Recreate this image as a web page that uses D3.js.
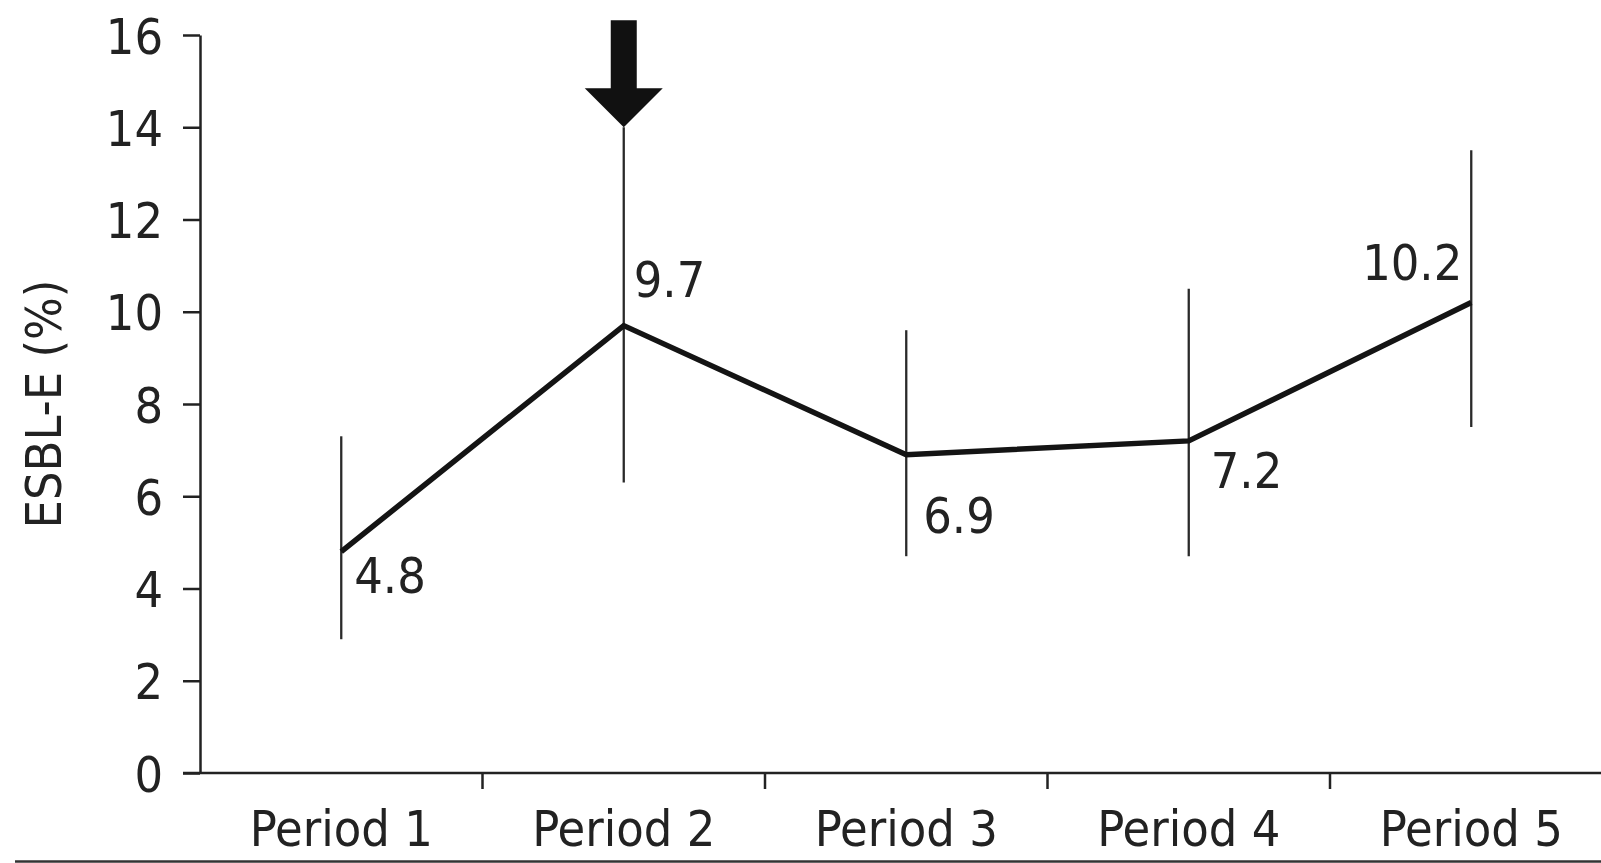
<!DOCTYPE html>
<html>
<head>
<meta charset="utf-8">
<script src="https://cdn.jsdelivr.net/npm/d3@7"></script>
<style>
  body { margin: 0; background: #fff; }
  svg { display: block; font-family: 'DejaVu Sans Condensed', 'DejaVu Sans', sans-serif; }
</style>
</head>
<body>
<script>
// data
const periods = ['Period 1', 'Period 2', 'Period 3', 'Period 4', 'Period 5'];
const esbl = [4.8, 9.7, 6.9, 7.2, 10.2];
const ciLow = [2.9, 6.3, 4.7, 4.7, 7.5];
const ciHigh = [7.3, 14.0, 9.6, 10.5, 13.5];
const yTicks = [0, 2, 4, 6, 8, 10, 12, 14, 16];
const arrowAt = 'Period 2';

const width = 1601, height = 863;
const margin = { l: 200, t: 35, b: 90 };

// where each value label sits relative to its point
const labelPos = [
  { dx: 13, dy: 41, anchor: 'start' },
  { dx: 10, dy: -29, anchor: 'start' },
  { dx: 17, dy: 78, anchor: 'start' },
  { dx: 22, dy: 47, anchor: 'start' },
  { dx: -9, dy: -23, anchor: 'end' }
];

const svg = d3.select('body').append('svg')
  .attr('width', width)
  .attr('height', height);

const x = d3.scaleBand()
  .domain(periods)
  .range([margin.l, margin.l + 5 * 282.5]);

const y = d3.scaleLinear()
  .domain([0, 16])
  .range([height - margin.b, margin.t]);

// y axis
const yAxis = svg.append('g')
  .attr('transform', `translate(${margin.l},0)`)
  .call(d3.axisLeft(y).tickValues(yTicks).tickSize(17).tickPadding(20).tickSizeOuter(0));
yAxis.select('.domain').attr('stroke', '#222').attr('stroke-width', 2.5);
yAxis.selectAll('.tick line').attr('stroke', '#222').attr('stroke-width', 2.5);
yAxis.selectAll('.tick text')
  .attr('font-size', 50)
  .attr('font-family', "'DejaVu Sans Condensed', 'DejaVu Sans', sans-serif")
  .attr('fill', '#222')
  .attr('dy', '0.36em');

// x axis
const xAxis = svg.append('g')
  .attr('transform', `translate(0,${y(0)})`)
  .call(d3.axisBottom(x).tickSize(0).tickPadding(37).tickSizeOuter(0));
xAxis.select('.domain')
  .attr('d', `M${margin.l - 17},0H${width}`)
  .attr('stroke', '#222').attr('stroke-width', 2.5);
xAxis.selectAll('.tick text')
  .attr('font-size', 50)
  .attr('font-family', "'DejaVu Sans Condensed', 'DejaVu Sans', sans-serif")
  .attr('fill', '#222');

// band edges as ticks
xAxis.selectAll('.edge')
  .data(periods)
  .enter().append('line')
  .attr('class', 'edge')
  .attr('x1', d => x(d) + x.bandwidth())
  .attr('x2', d => x(d) + x.bandwidth())
  .attr('y1', 0)
  .attr('y2', 16)
  .attr('stroke', '#222')
  .attr('stroke-width', 2.5);

svg.append('text')
  .attr('transform', `translate(61,${y(8)}) rotate(-90)`)
  .attr('text-anchor', 'middle')
  .attr('font-size', 50)
  .attr('fill', '#222')
  .text('ESBL-E (%)');

const cx = d => x(d) + x.bandwidth() / 2;

// confidence bars
svg.selectAll('.ci')
  .data(periods)
  .enter().append('line')
  .attr('class', 'ci')
  .attr('x1', cx).attr('x2', cx)
  .attr('y1', (d, i) => y(ciLow[i]))
  .attr('y2', (d, i) => y(ciHigh[i]))
  .attr('stroke', '#2a2a2a')
  .attr('stroke-width', 2.3);

// main line
const line = d3.line()
  .x((d, i) => cx(periods[i]))
  .y(d => y(d));

svg.append('path')
  .datum(esbl)
  .attr('d', line)
  .attr('fill', 'none')
  .attr('stroke', '#141414')
  .attr('stroke-width', 5.5)
  .attr('stroke-linejoin', 'miter');

// value labels
svg.selectAll('.val')
  .data(esbl)
  .enter().append('text')
  .attr('class', 'val')
  .attr('x', (d, i) => cx(periods[i]) + labelPos[i].dx)
  .attr('y', (d, i) => y(d) + labelPos[i].dy)
  .attr('text-anchor', (d, i) => labelPos[i].anchor)
  .attr('font-size', 50)
  .attr('fill', '#222')
  .text(d => d.toFixed(1));

// intervention arrow above period 2
const ai = periods.indexOf(arrowAt);
const ax = cx(arrowAt), ay = y(ciHigh[ai]);
svg.append('path')
  .attr('d', `M${ax},${ay} L${ax - 39},${ay - 39} L${ax - 13},${ay - 39} L${ax - 13},${ay - 107} L${ax + 13},${ay - 107} L${ax + 13},${ay - 39} L${ax + 39},${ay - 39} Z`)
  .attr('fill', '#111');

// rule under the figure
svg.append('line')
  .attr('x1', 15).attr('x2', width)
  .attr('y1', height - 1.5).attr('y2', height - 1.5)
  .attr('stroke', '#333')
  .attr('stroke-width', 2.5);
</script>
</body>
</html>
